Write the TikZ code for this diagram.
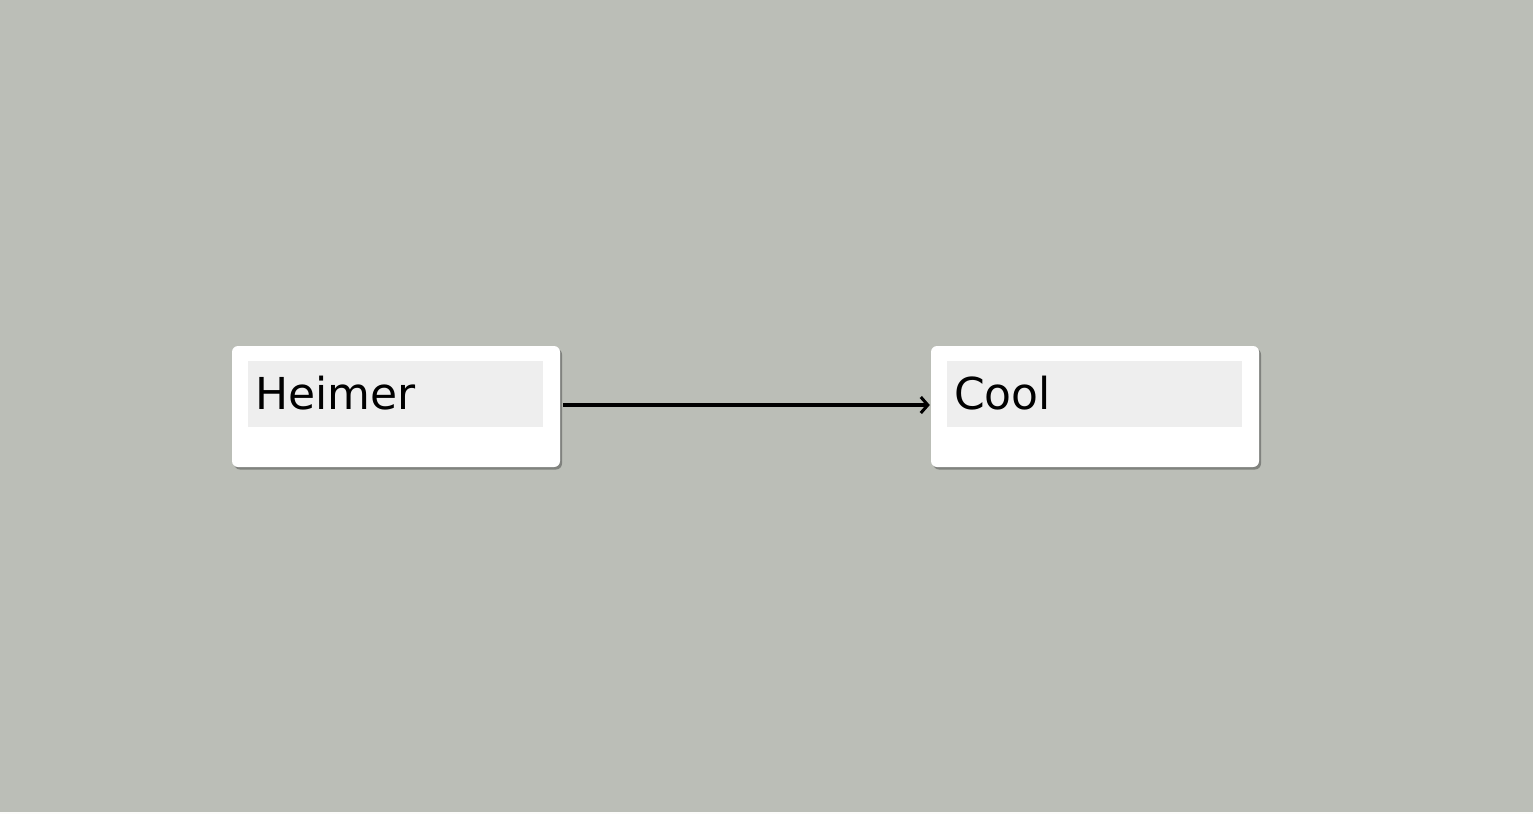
\documentclass[tikz,border=0pt]{standalone}
\usepackage{fontspec}
\setmainfont{DejaVu Sans}
\usetikzlibrary{shadows,arrows.meta}
\definecolor{bg}{HTML}{BBBEB7}
\definecolor{lab}{HTML}{EEEEEE}
\definecolor{shd}{HTML}{7A7C78}
\tikzset{
  x=1pt,y=-1pt,
  card/.style={draw=none,fill=white,rounded corners=6pt,minimum width=328pt,minimum height=121pt,inner sep=0pt,
    drop shadow={shadow xshift=2pt,shadow yshift=-2.5pt,fill=shd,opacity=0.9}},
  labbox/.style={fill=lab,draw=none,minimum width=295pt,minimum height=66pt,inner sep=0pt},
  title/.style={font=\fontsize{44pt}{52pt}\selectfont,anchor=base west,inner sep=0pt,text=black},
  conn/.style={line width=3.4pt,-{Straight Barb[length=7pt,width=16pt,line width=3pt]}}
}
\begin{document}
\begin{tikzpicture}
\fill[bg] (0,0) rectangle (1533,812);
\fill[white!95!bg] (0,812) rectangle (1533,814);
\useasboundingbox (0,0) rectangle (1533,814);
\node[card] (h) at (396,406.5) {};
\node[labbox] (hl) at (395.5,394) {};
\node[title] (ht) at (255,409.5) {Heimer};
\node[card] (c) at (1095,406.5) {};
\node[labbox] (cl) at (1094.5,394) {};
\node[title] (ct) at (954,409.5) {Cool};
\draw[conn] ([xshift=3pt,yshift=1.5pt]h.east) -- ([xshift=-1pt,yshift=1.5pt]c.west);
\end{tikzpicture}
\end{document}
